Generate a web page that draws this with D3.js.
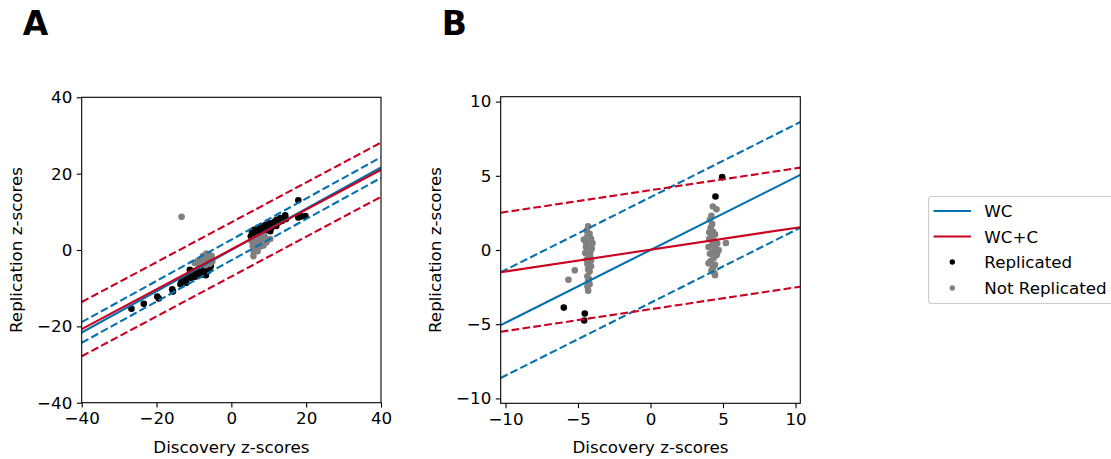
<!DOCTYPE html>
<html>
<head>
<meta charset="utf-8">
<script src="https://cdn.jsdelivr.net/npm/d3@7"></script>
<style>
  html, body { margin: 0; padding: 0; background: #fff; }
  svg { display: block; font-family: "DejaVu Sans", sans-serif; }
</style>
</head>
<body>
<svg id="fig" width="1111" height="459"></svg>
<script>
// ---- Panel A: discovery vs replication z-scores ----
const ticksA = [-40, -20, 0, 20, 40];
const replicatedA = [
  [-26.7,-15.4],[-23.4,-14.1],[-19.8,-12.2],[-19.4,-12.7],[-15.8,-10.3],[-15.6,-10.9],
  [-13.6,-9.0],[-13.3,-8.2],[-12.4,-7.8],[-12.0,-8.6],[-11.6,-6.9],[-11.1,-5.2],
  [-10.8,-7.3],[-10.4,-6.2],[-10.0,-5.6],[-9.7,-7.0],[-9.3,-6.0],[-9.0,-5.1],
  [-8.7,-6.6],[-8.4,-5.6],[-8.0,-6.5],[-7.7,-4.8],[-7.4,-6.0],[-7.1,-5.3],
  [-6.8,-6.6],[-6.5,-4.6],[-6.2,-5.5],[-5.8,-5.0],[-5.5,-4.2],
  [5.2,3.6],[5.5,4.8],[5.8,4.2],[6.1,5.3],[6.4,3.8],[6.8,4.9],[7.1,5.8],[7.4,4.4],
  [7.8,5.4],[8.1,6.2],[8.5,4.9],[8.8,5.9],[9.2,6.6],[9.5,5.3],[9.9,6.3],[10.3,7.0],
  [10.4,4.9],[10.7,5.8],[11.1,6.6],[11.5,7.4],[12.0,6.3],[12.1,7.9],[12.6,7.2],
  [13.1,8.4],[13.5,7.6],[14.4,9.1],[14.6,8.1],[17.9,13.0],[17.9,8.5],[18.6,8.8],[19.8,8.9]
];
const notReplicatedA = [
  [-13.3,8.7],[-9.8,-3.4],[-9.0,-2.9],[-8.6,-4.1],[-8.1,-2.4],[-7.6,-1.6],[-7.3,-3.2],
  [-7.0,-2.2],[-6.7,-0.9],[-6.5,-1.6],[-6.3,-2.8],[-6.0,-1.2],[-5.8,-3.6],[-5.5,-2.3],
  [-5.3,-1.5],[-5.1,-3.0],[-6.9,-4.0],
  [5.4,2.4],[5.7,1.1],[5.9,-1.6],[6.0,-0.6],[6.3,2.9],[6.6,0.4],[6.9,1.8],[7.2,3.3],
  [7.5,1.6],[7.8,0.9],[8.2,2.4],[8.6,1.2],[9.0,3.1],[9.4,2.0],[10.4,2.9],[7.0,-0.3],[8.8,3.8]
];
// fitted line: [slope, intercept, half-width of the interval]
const fitA_WC  = [0.54, 0.0, 2.7];
const fitA_WCC = [0.522, 0.15, 7.1];

// ---- Panel B ----
const ticksB = [-10, -5, 0, 5, 10];
const replicatedB = [[-5.98,-3.88],[-4.53,-4.28],[-4.57,-4.75],[4.48,3.61],[4.94,4.91]];
const notReplicatedB = [
  [-5.66,-2.0],[-5.22,-1.37],[-4.6,0.7],[-4.3,1.6],[-4.4,1.3],[-4.2,1.1],[-4.35,0.92],
  [-4.1,0.75],[-4.45,0.5],[-4.0,0.47],[-4.25,0.25],[-4.05,0.1],[-4.5,-0.2],[-4.3,-0.3],
  [-4.15,-0.45],[-4.4,-0.65],[-4.2,-0.83],[-4.35,-0.95],[-4.1,-1.1],[-4.3,-1.3],
  [-4.2,-1.45],[-4.35,-1.77],[-4.25,-1.95],[-4.3,-2.1],[-4.2,-2.3],[-4.35,-2.44],
  [-4.3,-2.74],[-4.15,-0.15],[-4.45,0.2],[-4.1,-0.7],
  [4.3,2.93],[4.55,2.75],[4.2,2.3],[4.1,2.05],[4.25,1.75],[4.15,1.5],[4.3,1.25],
  [4.45,1.05],[4.2,0.9],[4.05,0.75],[4.4,0.6],[4.6,0.45],[5.2,0.47],[4.25,0.35],
  [4.0,0.2],[4.5,0.1],[4.7,0.0],[4.3,-0.1],[4.1,-0.25],[4.55,-0.35],[4.35,-0.55],
  [4.15,-0.75],[4.0,-0.9],[4.45,-1.0],[4.3,-1.2],[4.2,-1.4],[4.4,-1.55],[4.45,-1.7],
  [4.6,-0.2],[4.05,1.2]
];
const fitB_WC  = [0.49, 0.0, 3.56];
const fitB_WCC = [0.147, 0.02, 4.01];

const legendLabels = ["WC", "WC+C", "Replicated", "Not Replicated"];

const BLUE = "#0571b0", RED = "#ca0020", GREY = "#808080", BLACK = "#000000";
const FS = 16.7;

const svg = d3.select("#fig");

function panel(id, letter, xDom, yDom, box, ticks, rep, notRep, fitWC, fitWCC) {
  const x = d3.scaleLinear().domain(xDom).range([box.left, box.right]);
  const y = d3.scaleLinear().domain(yDom).range([box.bottom, box.top]);
  const g = svg.append("g");

  g.append("clipPath").attr("id", "clip" + id)
    .append("rect")
    .attr("x", box.left).attr("y", box.top)
    .attr("width", box.right - box.left).attr("height", box.bottom - box.top);

  const plot = g.append("g").attr("clip-path", `url(#clip${id})`);

  // points: replicated first, then not replicated
  plot.append("g").selectAll("circle").data(rep).join("circle")
    .attr("cx", d => x(d[0])).attr("cy", d => y(d[1])).attr("r", 3.3)
    .attr("fill", BLACK);
  plot.append("g").selectAll("circle").data(notRep).join("circle")
    .attr("cx", d => x(d[0])).attr("cy", d => y(d[1])).attr("r", 3.3)
    .attr("fill", GREY);

  // fitted lines with their interval bounds
  function drawFit(fit, color) {
    const [b, a, h] = fit;
    const offsets = [[0, null], [h, "7.7,3.3"], [-h, "7.7,3.3"]];
    offsets.forEach(([off, dash]) => {
      plot.append("line")
        .attr("x1", x(xDom[0])).attr("y1", y(a + b * xDom[0] + off))
        .attr("x2", x(xDom[1])).attr("y2", y(a + b * xDom[1] + off))
        .attr("stroke", color).attr("stroke-width", 2.1)
        .attr("stroke-dasharray", dash);
    });
  }
  drawFit(fitWC, BLUE);
  drawFit(fitWCC, RED);

  // axes
  const ax = g.append("g").attr("transform", `translate(0,${box.bottom})`)
    .call(d3.axisBottom(x).tickValues(ticks).tickSize(4.9).tickSizeOuter(0).tickPadding(4.5));
  const ay = g.append("g").attr("transform", `translate(${box.left},0)`)
    .call(d3.axisLeft(y).tickValues(ticks).tickSize(4.9).tickSizeOuter(0).tickPadding(4.5));
  [ax, ay].forEach(a => {
    a.select(".domain").remove();
    a.selectAll(".tick line").attr("stroke", "#000").attr("stroke-width", 1.1);
    a.selectAll(".tick text").attr("font-size", FS).attr("fill", "#000")
      .attr("font-family", "DejaVu Sans");
  });

  g.append("rect")
    .attr("x", box.left).attr("y", box.top)
    .attr("width", box.right - box.left).attr("height", box.bottom - box.top)
    .attr("fill", "none").attr("stroke", "#000").attr("stroke-width", 1.1);

  g.append("text")
    .attr("x", (box.left + box.right) / 2).attr("y", 452.5)
    .attr("text-anchor", "middle").attr("font-size", FS)
    .text("Discovery z-scores");
  g.append("text")
    .attr("transform", `translate(${box.left - 59.5},${(box.top + box.bottom) / 2}) rotate(-90)`)
    .attr("text-anchor", "middle").attr("font-size", FS)
    .text("Replication z-scores");

  g.append("text")
    .attr("x", box.left - 59).attr("y", 35)
    .attr("font-size", 33).attr("font-weight", "bold")
    .text(letter);
}

panel("A", "A", [-40, 40], [-40, 40],
  { left: 81.7, right: 381, top: 97.3, bottom: 402.7 },
  ticksA, replicatedA, notReplicatedA, fitA_WC, fitA_WCC);
panel("B", "B", [-10.33, 10.33], [-10.33, 10.33],
  { left: 500.7, right: 800.3, top: 96.7, bottom: 403.3 },
  ticksB, replicatedB, notReplicatedB, fitB_WC, fitB_WCC);

// legend
const lg = svg.append("g");
lg.append("rect")
  .attr("x", 928.5).attr("y", 196.5).attr("width", 190).attr("height", 107)
  .attr("rx", 3).attr("fill", "#fff").attr("stroke", "#cccccc").attr("stroke-width", 1.1);
const rowY = [211, 236.5, 262, 288];
const swatch = [
  { type: "line", color: BLUE },
  { type: "line", color: RED },
  { type: "dot", color: BLACK },
  { type: "dot", color: GREY }
];
legendLabels.forEach((lab, i) => {
  const s = swatch[i];
  if (s.type === "line") {
    lg.append("line").attr("x1", 933.5).attr("x2", 971)
      .attr("y1", rowY[i]).attr("y2", rowY[i])
      .attr("stroke", s.color).attr("stroke-width", 2.1);
  } else {
    lg.append("circle").attr("cx", 952.3).attr("cy", rowY[i]).attr("r", 2.7)
      .attr("fill", s.color);
  }
  lg.append("text").attr("x", 984.3).attr("y", rowY[i] + 6)
    .attr("font-size", FS).text(lab);
});
</script>
</body>
</html>
